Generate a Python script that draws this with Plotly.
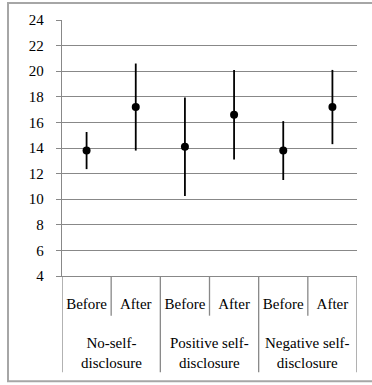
import plotly.graph_objects as go

groups = ["No-self-<br>disclosure", "Positive self-<br>disclosure", "Negative self-<br>disclosure"]
phases = ["Before", "After"]
means = [13.8, 17.2, 14.1, 16.6, 13.8, 17.2]
errors = [1.45, 3.4, 3.85, 3.5, 2.3, 2.9]
y_ticks = [4, 6, 8, 10, 12, 14, 16, 18, 20, 22, 24]

FONT = "Liberation Serif"
GRID = "#888888"

sub_labels = [p for g in groups for p in phases]
xpos = list(range(len(sub_labels)))

fig = go.Figure()
fig.add_trace(go.Scatter(
    x=xpos, y=means, mode="markers",
    marker=dict(color="black", size=8),
    error_y=dict(type="data", array=errors, color="black", thickness=1.8, width=0),
    showlegend=False, hoverinfo="skip",
))

# sub-category dividers
n = len(phases)
for i in range(1, len(sub_labels)):
    is_group = (i % n == 0)
    fig.add_shape(type="line", xref="x", yref="paper", x0=i - 0.5, x1=i - 0.5,
                  y0=0, y1=-0.376 if is_group else -0.155,
                  line=dict(color=GRID, width=1.3))
for edge in (-0.5, len(sub_labels) - 0.5):
    fig.add_shape(type="line", xref="x", yref="paper", x0=edge, x1=edge,
                  y0=0, y1=-0.376, line=dict(color=GRID, width=1.3))

# group labels
for gi, g in enumerate(groups):
    fig.add_annotation(x=gi * n + (n - 1) / 2, y=-0.30, xref="x", yref="paper",
                       text=g, showarrow=False, yanchor="middle",
                       font=dict(family=FONT, size=15, color="black"))

# outer frame
fig.add_shape(type="rect", xref="paper", yref="paper", x0=-0.183, x1=1.2,
              y0=-0.411, y1=1.066, line=dict(color="#a6a6a6", width=2),
              layer="below")

fig.update_layout(
    width=372, height=385,
    margin=dict(l=62, r=15, t=18, b=109),
    paper_bgcolor="white", plot_bgcolor="white",
    font=dict(family=FONT, size=15, color="black"),
    xaxis=dict(range=[-0.5, len(sub_labels) - 0.5], tickmode="array",
               tickvals=xpos, ticktext=sub_labels, showgrid=False,
               showline=True, linecolor=GRID, linewidth=1.3, ticks="",
               zeroline=False, ticklabelstandoff=14, fixedrange=True,
               tickfont=dict(family=FONT, size=15, color="black")),
    yaxis=dict(range=[4, 24], tickmode="array", tickvals=y_ticks,
               showgrid=True, gridcolor=GRID, gridwidth=1.3,
               showline=True, linecolor=GRID, linewidth=1.3,
               ticks="outside", ticklen=5, tickcolor=GRID, tickwidth=1.3,
               zeroline=False, ticklabelstandoff=9, fixedrange=True,
               tickfont=dict(family=FONT, size=15, color="black")),
)

fig.write_html("out.html", config={"displayModeBar": False},
               post_script="document.body.style.margin='0';")
